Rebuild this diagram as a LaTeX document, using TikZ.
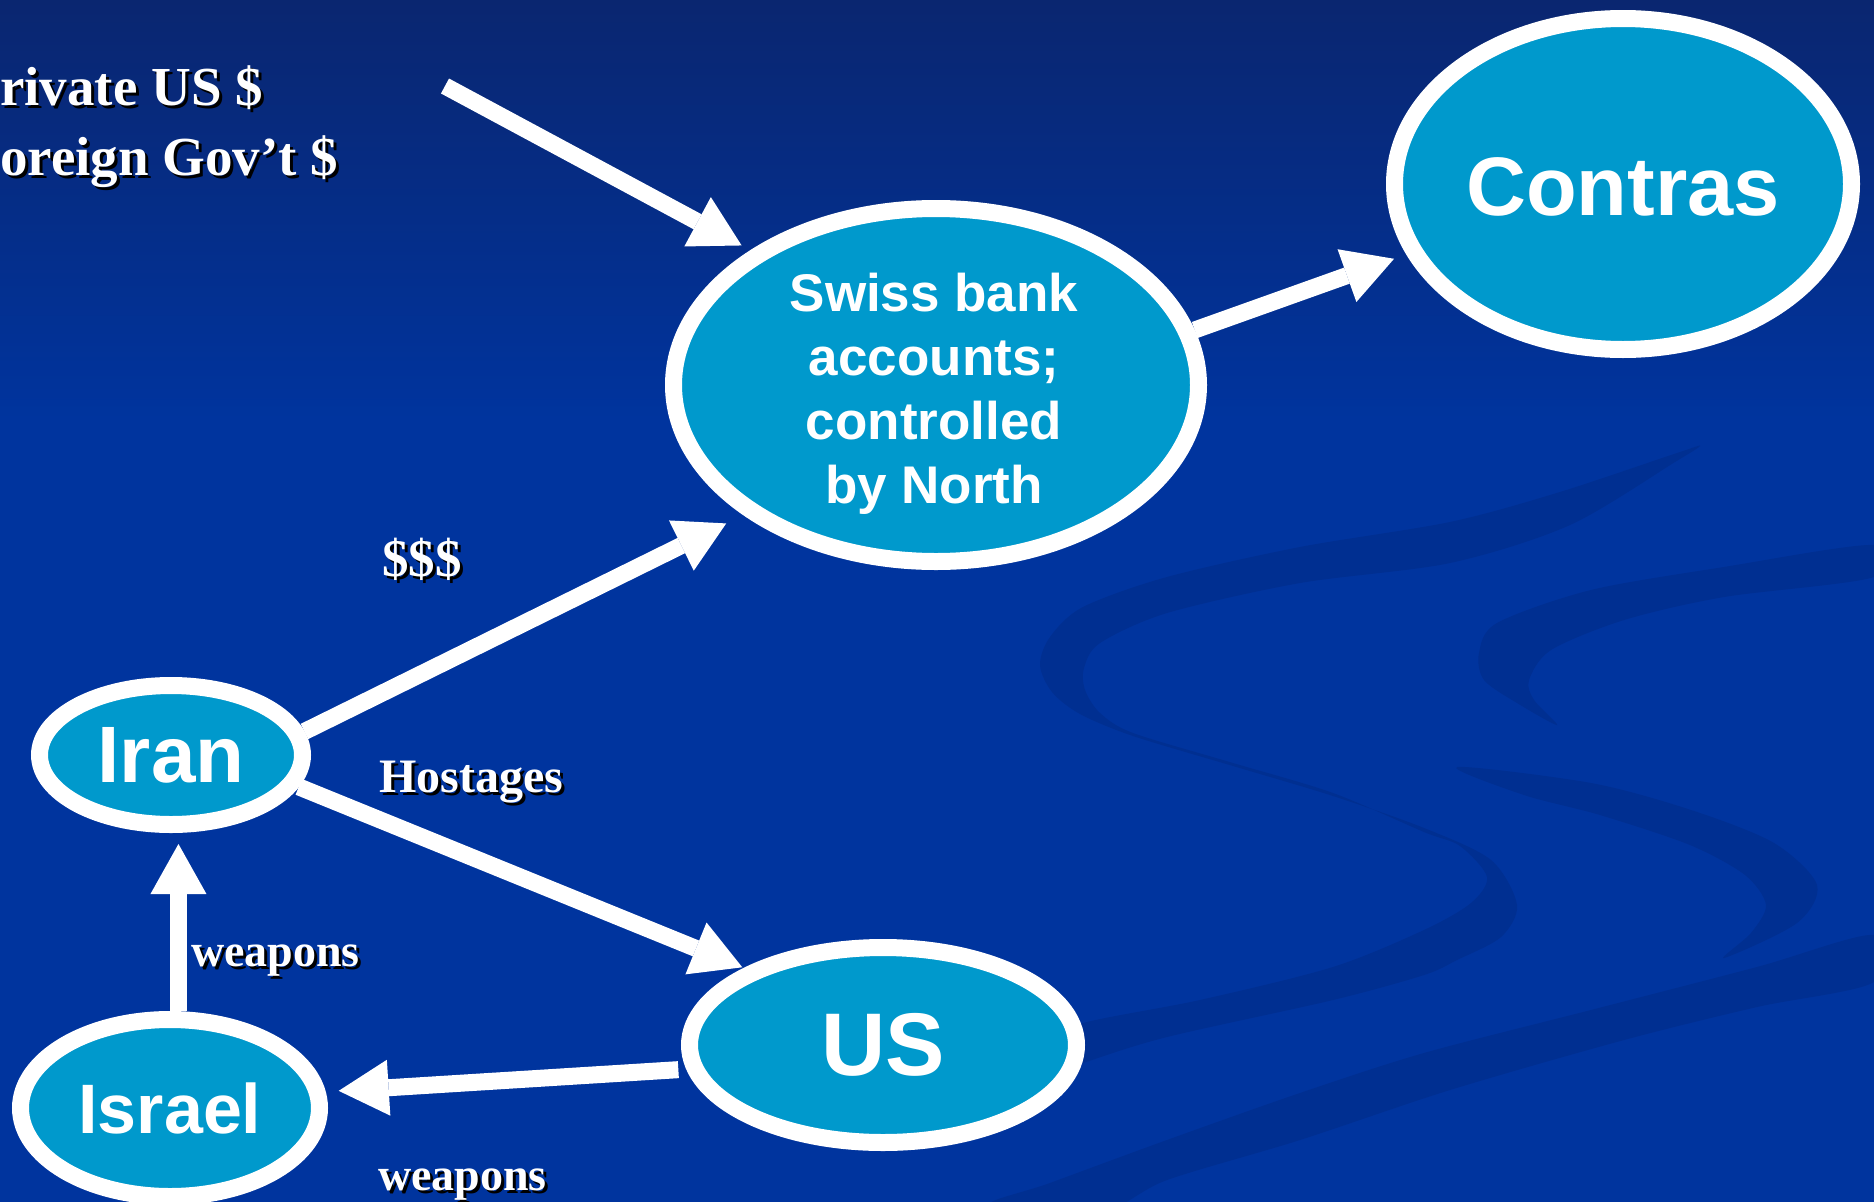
\documentclass[tikz,border=0pt]{standalone}
\usepackage{fontspec}
\setmainfont{Liberation Serif}
\newfontfamily\arialf{Liberation Sans}
\usetikzlibrary{shapes.geometric,arrows.meta,calc}
\definecolor{bgtop}{RGB}{10,38,112}
\definecolor{bgbot}{RGB}{0,52,158}
\definecolor{swooshc}{RGB}{0,47,145}
\definecolor{ovalblue}{RGB}{0,153,204}
\tikzset{
  oval/.style={ellipse, draw=white, line width=17pt, fill=ovalblue, inner sep=0pt,
    text=white, align=center},
  arr/.style={draw=white, line width=17pt,
    -{Triangle[length=50pt,width=56pt,line width=0pt]}},
  lbl/.style={font=\bfseries\fontsize{46}{50}\selectfont, text=white, inner sep=0pt, anchor=base west},
  shd/.style={lbl, text=black},
  big/.style={font=\bfseries\fontsize{55}{60}\selectfont},
  swoosh/.style={fill=swooshc},
}
\begin{document}
\begin{tikzpicture}[x=1pt,y=-1pt]
\useasboundingbox (0,0) rectangle (1874,1202);
% background
\fill[bgbot] (0,0) rectangle (1874,1202);
\shade[top color=bgtop, bottom color=bgbot] (0,0) rectangle (1874,420);
% decorative swooshes
\fill[swoosh] plot[smooth cycle, tension=0.5] coordinates {
 (1700,446) (1680,452) (1560,492) (1450,522) (1300,547) (1167,577) (1083,607) (1050,637) (1040,665)
 (1052,692) (1080,714) (1133,736) (1233,766) (1333,796) (1424,828) (1491,860) (1517,905)
 (1501,937) (1457,960) (1424,975) (1333,1000) (1167,1037) (1083,1063) (1000,1092)
 (1000,1052) (1083,1023) (1200,1000) (1333,967) (1424,930) (1471,903) (1487,877) (1460,846)
 (1424,832) (1333,793) (1233,763) (1133,733) (1100,713) (1085,690) (1084,668) (1100,643)
 (1167,613) (1300,583) (1450,563) (1570,525) (1675,462)};
\fill[swoosh] plot[smooth cycle, tension=0.5] coordinates {
 (1874,545) (1724,567) (1591,590) (1497,623) (1479,653) (1484,680) (1517,703) (1557,725)
 (1534,700) (1529,680) (1551,650) (1624,620) (1724,597) (1874,577)};
\fill[swoosh] plot[smooth cycle, tension=0.5] coordinates {
 (1457,767) (1591,783) (1691,810) (1774,843) (1817,885) (1797,923) (1724,958)
 (1751,933) (1766,905) (1745,875) (1690,845) (1600,815) (1524,795)};
\fill[swoosh] plot[smooth cycle, tension=0.5] coordinates {
 (1874,935) (1757,967) (1591,1010) (1424,1053) (1300,1093) (1167,1140) (1050,1183) (990,1205)
 (1100,1212) (1167,1180) (1300,1140) (1450,1090) (1624,1040) (1757,1007) (1874,982)};

% nodes
\node[oval, minimum width=457pt, minimum height=331pt] (contras) at (1623,184) {};
\node[text=white, inner sep=0pt, font=\arialf\bfseries\fontsize{83}{90}\selectfont]
  (contrastxt) at (1623,187) {Contras};
\node[oval, minimum width=525pt, minimum height=353pt] (swiss) at (936,385) {};
\node[text=white, inner sep=0pt, align=center, font=\arialf\bfseries\fontsize{53}{64}\selectfont]
  (swisstxt) at (934,394) {Swiss bank\\accounts;\\controlled\\by North};
\node[oval, minimum width=263pt, minimum height=139pt, font=\arialf\bfseries\fontsize{80}{88}\selectfont]
  (iran) at (171,755) {Iran};
\node[oval, minimum width=299pt, minimum height=177pt, font=\arialf\bfseries\fontsize{70}{78}\selectfont]
  (israel) at (170,1108) {Israel};
\node[oval, minimum width=387pt, minimum height=195pt, font=\arialf\bfseries\fontsize{89}{96}\selectfont]
  (us) at (883,1045) {US};

% labels with shadows
\node[shd, big] (privS) at (3,108) {rivate US \$};
\node[lbl, big] (priv) at (0,105) {rivate US \$};
\node[shd, big] (forS) at (3,178) {oreign Gov’t \$};
\node[lbl, big] (for) at (0,175) {oreign Gov’t \$};
\node[shd, font=\bfseries\fontsize{53}{56}\selectfont] (dolS) at (385,579) {\$\$\$};
\node[lbl, font=\bfseries\fontsize{53}{56}\selectfont] (dol) at (382,576) {\$\$\$};
\node[shd, font=\bfseries\fontsize{48}{52}\selectfont] (hostS) at (382,795) {Hostages};
\node[lbl, font=\bfseries\fontsize{48}{52}\selectfont] (host) at (379,792) {Hostages};
\node[shd] (weap1S) at (194,969) {weapons};
\node[lbl] (weap1) at (191,966) {weapons};
\node[shd] (weap2S) at (381,1193) {weapons};
\node[lbl] (weap2) at (378,1190) {weapons};

% arrows
\coordinate (ptail) at (445,86);
\draw[arr, shorten >=10pt] (ptail) -- (swiss.144);
\draw[arr, shorten >=19pt] (iran.10) -- (swiss.214);
\draw[arr, shorten >=13pt] (swiss.12) -- (contras.198);
\draw[arr, shorten >=2pt] (iran.-14) -- (us.151);
\draw[arr, shorten >=11pt] (israel.85) -- (israel.85 |- iran.south);
\draw[arr, shorten <=8pt, shorten >=13pt] (us.187) -- (israel.6);
\end{tikzpicture}
\end{document}
